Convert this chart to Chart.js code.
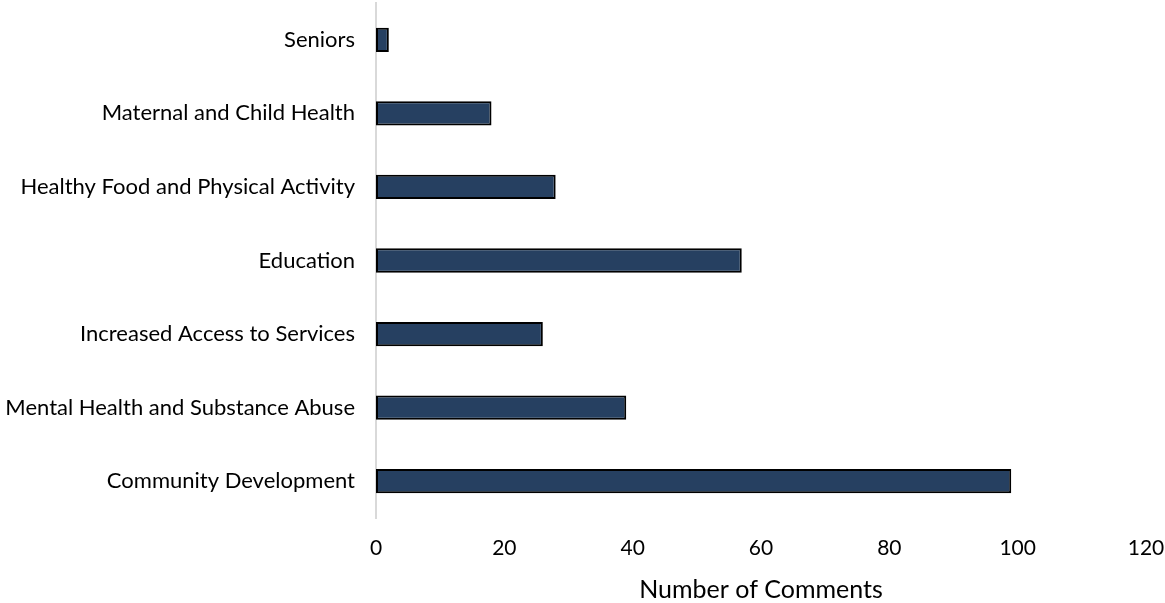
<!DOCTYPE html>
<html>
<head>
<meta charset="utf-8">
<script src="https://cdn.jsdelivr.net/npm/chart.js@4"></script>
<style>
  html, body { margin: 0; padding: 0; background: #fff; }
  #wrap { width: 1165px; height: 603px; }
</style>
</head>
<body>
<div id="wrap"><canvas id="commentsChart"></canvas></div>
<script>
// categories, top to bottom
const categories = [
    'Seniors',
    'Maternal and Child Health',
    'Healthy Food and Physical Activity',
    'Education',
    'Increased Access to Services',
    'Mental Health and Substance Abuse',
    'Community Development'
];
const commentCounts = [2, 18, 28, 57, 26, 39, 99];
const xTicks = [0, 20, 40, 60, 80, 100, 120];

const ctx = document.getElementById('commentsChart').getContext('2d');
new Chart(ctx, {
    type: 'bar',
    data: {
        labels: categories,
        datasets: [{
            label: 'Number of Comments',
            data: commentCounts,
            backgroundColor: '#264061',
            borderColor: '#000000',
            borderWidth: 2,
            borderSkipped: false,
            categoryPercentage: 1.0,
            barPercentage: 0.33
        }]
    },
    options: {
        indexAxis: 'y',
        responsive: true,
        maintainAspectRatio: false,
        animation: false,
        layout: {
            padding: { top: 3, right: 19, bottom: 0, left: 0 }
        },
        plugins: {
            legend: { display: false },
            tooltip: { enabled: false }
        },
        scales: {
            x: {
                min: xTicks[0],
                max: xTicks[xTicks.length - 1],
                afterBuildTicks: (axis) => {
                    axis.ticks = xTicks.map(v => ({ value: v }));
                },
                afterFit: (axis) => {
                    // plot right edge sits under the centre of the 120 label
                    axis.paddingRight = 0;
                    axis.paddingLeft = 0;
                    axis.height = 85;
                },
                grid: { display: false, drawTicks: false },
                border: { display: false },
                ticks: {
                    color: '#000',
                    padding: 18,
                    font: { family: 'Lato', size: 21 }
                },
                title: {
                    display: true,
                    text: 'Number of Comments',
                    color: '#000',
                    padding: { top: 0, bottom: -2 },
                    font: { family: 'Lato', size: 25 }
                }
            },
            y: {
                afterFit: (axis) => {
                    axis.paddingTop = 0;
                    axis.paddingBottom = 0;
                    axis.width = 376;
                },
                grid: { display: false, drawTicks: false },
                border: { display: true, color: '#d9d9d9', width: 2 },
                ticks: {
                    color: '#000',
                    padding: 21,
                    font: { family: 'Lato', size: 22 }
                }
            }
        }
    }
});
</script>
</body>
</html>
